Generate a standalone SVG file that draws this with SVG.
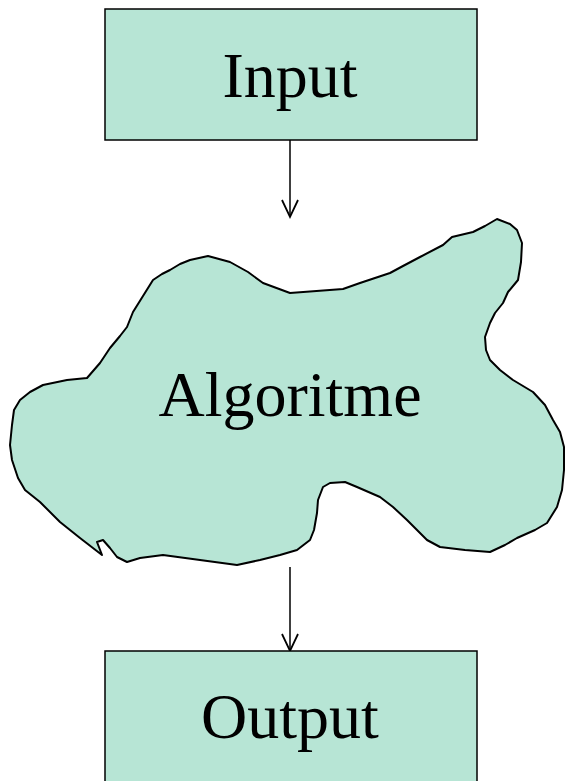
<svg xmlns="http://www.w3.org/2000/svg" width="565" height="781" viewBox="0 0 565 781">
<style>
.box{fill:#b7e5d5;stroke:#000;stroke-width:1.5}
.blob{fill:#b7e5d5;stroke:#000;stroke-width:2;stroke-linejoin:round}
.lbl{font-family:"Liberation Serif","Times New Roman",serif;font-size:64px;fill:#000;text-anchor:middle}
.conn{stroke:#000;stroke-width:1.5;fill:none}
</style>
<defs>
<marker id="arr" markerUnits="userSpaceOnUse" markerWidth="22" markerHeight="22" viewBox="-20 -11 22 22" refX="0" refY="0" orient="auto" overflow="visible">
<polyline points="-17,-8 0,0 -17,8" fill="none" stroke="#000" stroke-width="1.8"/>
</marker>
</defs>
<rect width="565" height="781" fill="#fff"/>
<g id="connectors">
<path class="conn" d="M290,140 L290,217" marker-end="url(#arr)"/>
<path class="conn" d="M290,567 L290,651" marker-end="url(#arr)"/>
</g>
<g id="input">
<rect class="box" x="105" y="9" width="372" height="131"/>
<text class="lbl" x="290" y="97">Input</text>
</g>
<g id="algoritme">
<path class="blob" d="M87,378 L100,363 L104,357 L110,348 L120,336 L127,327 L133,312 L143,296 L153,280 L162,274 L170,270 L180,264 L190,260 L208,256 L230,262 L248,272 L263,283 L290,293 L343,289 L360,283 L390,273 L403,266 L420,257 L443,245 L452,237 L473,232 L485,226 L497,219 L510,224 L517,230 L522,243 L521,262 L518,280 L508,292 L503,303 L495,313 L490,323 L485,337 L486,350 L490,360 L500,370 L513,380 L533,392 L545,405 L553,420 L560,432 L564,447 L564,470 L562,490 L557,507 L547,523 L535,530 L517,538 L505,545 L490,552 L465,550 L440,547 L427,540 L415,528 L407,520 L393,507 L380,497 L357,487 L345,482 L330,483 L323,487 L318,500 L317,513 L314,530 L310,540 L297,550 L280,555 L260,560 L237,565 L200,560 L163,555 L140,558 L127,562 L117,557 L110,548 L103,540 L97,542 L102,555 L80,538 L60,522 L40,502 L25,490 L18,478 L12,460 L10,445 L12,425 L14,410 L20,400 L30,392 L43,385 L67,380 Z"/>
<text class="lbl" x="290" y="416">Algoritme</text>
</g>
<g id="output">
<rect class="box" x="105" y="651" width="372" height="140"/>
<text class="lbl" x="290" y="738">Output</text>
</g>
</svg>
